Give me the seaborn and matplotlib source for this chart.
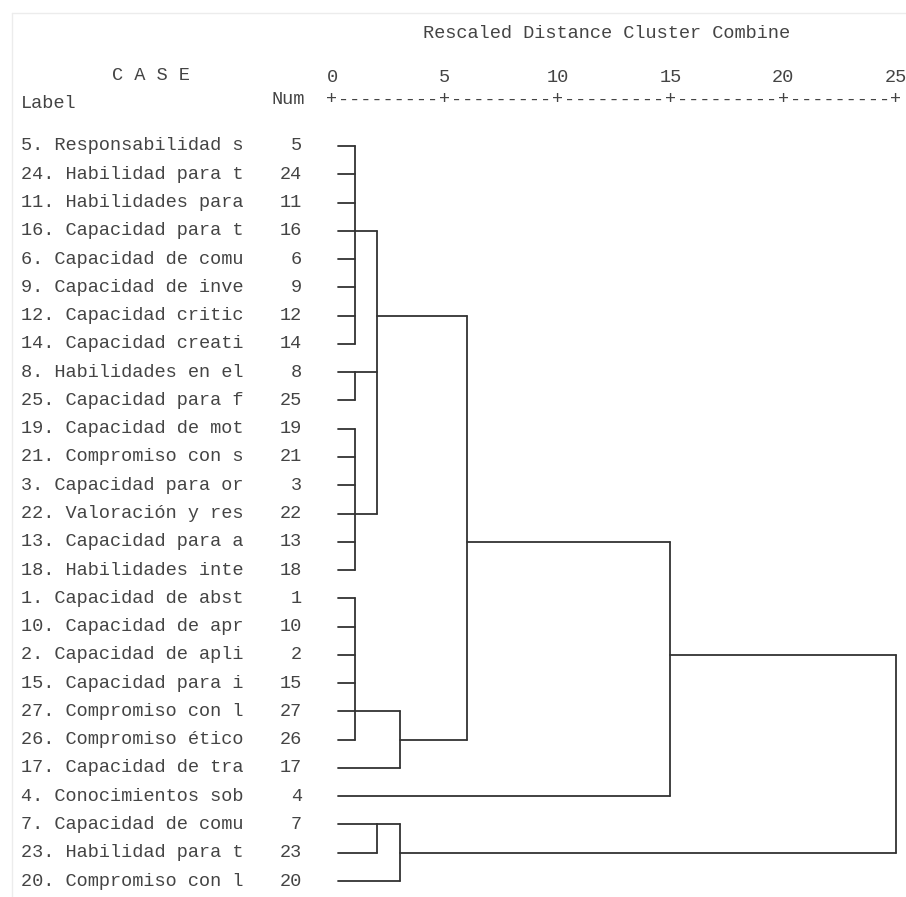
import matplotlib
matplotlib.use("Agg")
import matplotlib.pyplot as plt
import matplotlib.transforms as mtransforms
import seaborn as sns
import pandas as pd

# ---------------- data ----------------
labels = [
    "5. Responsabilidad s", "24. Habilidad para t", "11. Habilidades para",
    "16. Capacidad para t", "6. Capacidad de comu", "9. Capacidad de inve",
    "12. Capacidad critic", "14. Capacidad creati", "8. Habilidades en el",
    "25. Capacidad para f", "19. Capacidad de mot", "21. Compromiso con s",
    "3. Capacidad para or", "22. Valoración y res", "13. Capacidad para a",
    "18. Habilidades inte", "1. Capacidad de abst", "10. Capacidad de apr",
    "2. Capacidad de apli", "15. Capacidad para i", "27. Compromiso con l",
    "26. Compromiso ético", "17. Capacidad de tra", "4. Conocimientos sob",
    "7. Capacidad de comu", "23. Habilidad para t", "20. Compromiso con l",
]
case_nums = [5, 24, 11, 16, 6, 9, 12, 14, 8, 25, 19, 21, 3, 22, 13, 18,
             1, 10, 2, 15, 27, 26, 17, 4, 7, 23, 20]

# merges: children are case numbers (int) or earlier merge ids ("n#")
merge_children = [
    [5, 24, 11, 16, 6, 9, 12, 14],   # n0
    [8, 25],                          # n1
    [19, 21, 3, 22, 13, 18],          # n2
    ["n0", "n1", "n2"],               # n3
    [1, 10, 2, 15, 27, 26],           # n4
    ["n4", 17],                       # n5
    ["n3", "n5"],                     # n6
    ["n6", 4],                        # n7
    [7, 23],                          # n8
    ["n8", 20],                       # n9
    ["n7", "n9"],                     # n10 (root)
]
merge_dist = [1, 1, 1, 2, 1, 3, 6, 15, 2, 3, 25]
merge_row = [3, 8, 13, 6, 20, 21, 14, 18, 24, 25, None]

tick_values = [0, 5, 10, 15, 20, 25]
title = "Rescaled Distance Cluster Combine"

# ---------------- build segments ----------------
LEAF_START = 0.27
row_of_case = {c: i for i, c in enumerate(case_nums)}
node_row, node_x = {}, {}
segs = []
sid = 0
for k, (children, d) in enumerate(zip(merge_children, merge_dist)):
    rows = []
    for ch in children:
        if isinstance(ch, str):
            r, x0 = node_row[ch], node_x[ch]
        else:
            r, x0 = row_of_case[ch], LEAF_START
        rows.append(r)
        segs += [(sid, x0, r), (sid, d, r)]
        sid += 1
    segs += [(sid, d, min(rows)), (sid, d, max(rows))]
    sid += 1
    node_row["n%d" % k] = merge_row[k]
    node_x["n%d" % k] = d

df = pd.DataFrame(segs, columns=["seg", "x", "y"])

# ---------------- plot ----------------
sns.set_theme(style="white")
plt.rcParams["font.family"] = ["Liberation Mono", "DejaVu Sans Mono"]

W, H = 906, 897
fig = plt.figure(figsize=(W / 100, H / 100), dpi=100)
fig.patch.set_facecolor("white")

x0px, x25px = 332, 896
ytop, ybot = 146, 881
ax = fig.add_axes([x0px / W, 1 - ybot / H, (x25px - x0px) / W, (ybot - ytop) / H])
sns.lineplot(data=df, x="x", y="y", units="seg", estimator=None, sort=False,
             color="#333333", linewidth=1.3, ax=ax, legend=False)
for ln in ax.get_lines():
    ln.set_clip_on(False)
ax.set_xlim(0, 25)
ax.set_ylim(len(labels) - 1, 0)
ax.axis("off")

ink = "#444444"
fs = 13.4
blend_fx = mtransforms.blended_transform_factory(fig.transFigure, ax.transData)
for i, (lab, num) in enumerate(zip(labels, case_nums)):
    ax.text(21 / W, i, lab, transform=blend_fx, ha="left", va="center",
            fontsize=fs, color=ink)
    ax.text(302 / W, i, str(num), transform=blend_fx, ha="right", va="center",
            fontsize=fs, color=ink)

blend_dy = mtransforms.blended_transform_factory(ax.transData, fig.transFigure)
for t in tick_values:
    ax.text(t, 1 - 77 / H, str(t), transform=blend_dy, ha="center", va="center",
            fontsize=fs, color=ink)
    ax.text(t, 1 - 100 / H, "+", transform=blend_dy, ha="center", va="center",
            fontsize=fs, color=ink)
for a, b in zip(tick_values[:-1], tick_values[1:]):
    ax.text((a + b) / 2, 1 - 100 / H, "-" * 9, transform=blend_dy,
            ha="center", va="center", fontsize=fs, color=ink)

fig.text(607 / W, 1 - 33 / H, title, ha="center", va="center", fontsize=fs, color=ink)
fig.text(112 / W, 1 - 76 / H, "C A S E", ha="left", va="center", fontsize=fs, color=ink)
fig.text(21 / W, 1 - 103 / H, "Label", ha="left", va="center", fontsize=fs, color=ink)
fig.text(305 / W, 1 - 100 / H, "Num", ha="right", va="center", fontsize=fs, color=ink)

# faint frame of the original output panel
fig.add_artist(plt.Line2D([12 / W, 12 / W], [0, 1 - 13 / H], transform=fig.transFigure,
                          color="#ececec", linewidth=1))
fig.add_artist(plt.Line2D([12 / W, 1], [1 - 13 / H, 1 - 13 / H], transform=fig.transFigure,
                          color="#ececec", linewidth=1))

fig.savefig("out.png", dpi=100, facecolor="white")
